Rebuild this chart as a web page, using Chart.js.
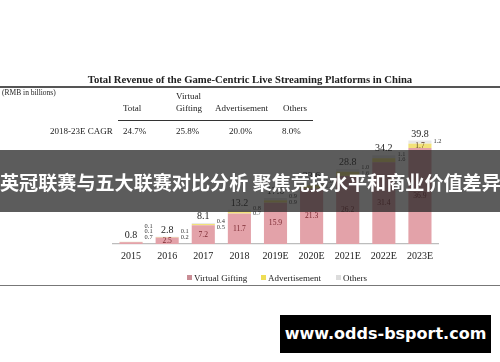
<!DOCTYPE html>
<html>
<head>
<meta charset="utf-8">
<script src="https://cdn.jsdelivr.net/npm/chart.js@4.4.0/dist/chart.umd.min.js"></script>
<style>
  body { margin: 0; background: #fff; width: 500px; height: 362px; overflow: hidden; position: relative; font-family: "Liberation Serif", serif; color: #222; }
  #wrap { position: absolute; left: 0; top: 0; width: 500px; height: 362px; }
  .t { position: absolute; white-space: nowrap; }
  .hr { position: absolute; background: #555; }
  #banner { position: absolute; left: 0; top: 150px; width: 500px; height: 62px; background: rgba(35,35,35,0.74);
    color: #fff; font-family: "Noto Sans CJK SC", sans-serif; font-weight: bold; font-size: 19.1px; line-height: 62px; text-align: center; padding-top: 1px; box-sizing: border-box; white-space: nowrap; }
  #mark { position: absolute; left: 280px; top: 315px; width: 211px; height: 38px; background: #000; color: #fff;
    font-family: "DejaVu Sans", sans-serif; font-weight: bold; font-size: 16px; line-height: 38px; text-align: center; }
  #legend { position: absolute; top: 271px; left: 0; width: 500px; height: 14px; font-size: 9px; }
  .lg { position: absolute; top: 0; line-height: 14px; }
  .lg i { display: inline-block; width: 5px; height: 5px; margin-right: 2px; vertical-align: 1px; }
</style>
</head>
<body>
<div id="wrap"><canvas id="c" width="500" height="362"></canvas></div>

<div class="t" style="left:0;width:500px;text-align:center;top:73px;font-weight:bold;font-size:10.7px;">Total Revenue of the Game-Centric Live Streaming Platforms in China</div>
<div class="hr" style="left:0;top:86px;width:500px;height:1.5px;"></div>
<div class="t" style="left:2px;top:88px;font-size:7.5px;">(RMB in billions)</div>

<div class="t" style="left:123px;top:103px;font-size:9px;">Total</div>
<div class="t" style="left:176px;top:90px;font-size:9px;line-height:12px;">Virtual<br>Gifting</div>
<div class="t" style="left:215px;top:103px;font-size:9px;">Advertisement</div>
<div class="t" style="left:283px;top:103px;font-size:9px;">Others</div>
<div class="hr" style="left:118px;top:119.5px;width:195px;height:1.3px;background:#333;"></div>

<div class="t" style="left:50px;top:126px;font-size:9px;">2018-23E CAGR</div>
<div class="t" style="left:123px;top:126px;font-size:9px;">24.7%</div>
<div class="t" style="left:176px;top:126px;font-size:9px;">25.8%</div>
<div class="t" style="left:229px;top:126px;font-size:9px;">20.0%</div>
<div class="t" style="left:282px;top:126px;font-size:9px;">8.0%</div>

<div id="legend"></div>
<div class="hr" style="left:0;top:284.5px;width:500px;height:1.2px;background:#777;"></div>

<div id="banner">英冠联赛与五大联赛对比分析 聚焦竞技水平和商业价值差异</div>
<div id="mark">www.odds-bsport.com</div>

<script>
const years = ["2015", "2016", "2017", "2018", "2019E", "2020E", "2021E", "2022E", "2023E"];
const seriesNames = ["Virtual Gifting", "Advertisement", "Others"];
const seriesColors = ["#e3a2a9", "#f2e27a", "#e8e8e8"];
const gifting = [0.7, 2.5, 7.2, 11.7, 15.9, 21.3, 26.2, 31.4, 36.9];
const advertisement = [0.1, 0.2, 0.5, 0.7, 0.9, 1.3, 1.6, 1.6, 1.7];
const others = [0.1, 0.1, 0.4, 0.8, 0.9, 1.0, 1.0, 1.1, 1.2];
const totals = [0.8, 2.8, 8.1, 13.2, 17.6, 23.6, 28.8, 34.2, 39.8];

// legend built from the series names
const legendBox = document.getElementById("legend");
const legendLeft = [187, 261, 336];
seriesNames.forEach((name, i) => {
    const el = document.createElement("div");
    el.className = "lg";
    el.style.left = legendLeft[i] + "px";
    el.innerHTML = `<i style="background:${i == 2 ? '#dcdcdc' : (i == 0 ? '#c98d95' : '#eedd55')}"></i>${name}`;
    legendBox.appendChild(el);
});

const fmt = v => v.toFixed(1);

// draws the value labels around the bars
const barLabels = {
    id: "barLabels",
    afterDatasetsDraw(chart) {
        const ctx = chart.ctx;
        const g = chart.getDatasetMeta(0).data;
        const a = chart.getDatasetMeta(1).data;
        const o = chart.getDatasetMeta(2).data;
        const axisY = chart.scales.y.getPixelForValue(0);
        ctx.save();
        for (let i = 0; i < years.length; i++) {
            const top = o[i].y;
            const right = g[i].x + g[i].width / 2 + 2;

            // total above the bar
            ctx.font = "10px 'Liberation Serif'";
            ctx.fillStyle = "#222";
            ctx.textAlign = "center";
            ctx.textBaseline = "bottom";
            ctx.fillText(fmt(totals[i]), g[i].x, top - 1.5);

            // side labels, stacked upward
            const side = [];
            let advInside = i == years.length - 1;
            if (advInside) {
                ctx.font = "7.5px 'Liberation Serif'";
                ctx.fillStyle = "#5a3a20";
                ctx.textBaseline = "middle";
                ctx.fillText(fmt(advertisement[i]), a[i].x, (a[i].y + a[i].base) / 2);
            }
            let giftInside = gifting[i] >= 1;
            if (giftInside) {
                ctx.font = "7.6px 'Liberation Serif'";
                ctx.fillStyle = "#7a2830";
                ctx.textBaseline = "middle";
                ctx.fillText(fmt(gifting[i]), g[i].x, (g[i].y + g[i].base) / 2);
            }
            side.push(fmt(others[i]));
            if (!advInside) side.push(fmt(advertisement[i]));
            if (!giftInside) side.push(fmt(gifting[i]));

            ctx.font = "6.4px 'Liberation Serif'";
            ctx.fillStyle = "#333";
            ctx.textAlign = "left";
            ctx.textBaseline = "middle";
            let y = Math.min(top + 4, axisY - 7);
            if (advInside) y = top + 1;
            for (let k = side.length - 1; k >= 0; k--) {
                ctx.fillText(side[k], right, y);
                y -= 5.3;
            }
        }
        ctx.restore();
    }
};

new Chart(document.getElementById("c"), {
    type: "bar",
    data: {
        labels: years,
        datasets: [
            { label: seriesNames[0], data: gifting, backgroundColor: seriesColors[0] },
            { label: seriesNames[1], data: advertisement, backgroundColor: seriesColors[1] },
            { label: seriesNames[2], data: others, backgroundColor: seriesColors[2] }
        ]
    },
    options: {
        responsive: false,
        animation: false,
        layout: { padding: { left: 113, right: 62, top: 140, bottom: 94 } },
        datasets: { bar: { categoryPercentage: 1, barPercentage: 0.64 } },
        plugins: { legend: { display: false }, tooltip: { enabled: false } },
        scales: {
            x: {
                stacked: true,
                grid: { display: false, drawTicks: false },
                border: { display: true, color: "#bdbdbd", width: 1.2 },
                ticks: { padding: 6, color: "#222", font: { family: "Liberation Serif", size: 10 } }
            },
            y: { stacked: true, display: false, min: 0, max: 40 }
        }
    },
    plugins: [barLabels]
});
</script>
</body>
</html>
